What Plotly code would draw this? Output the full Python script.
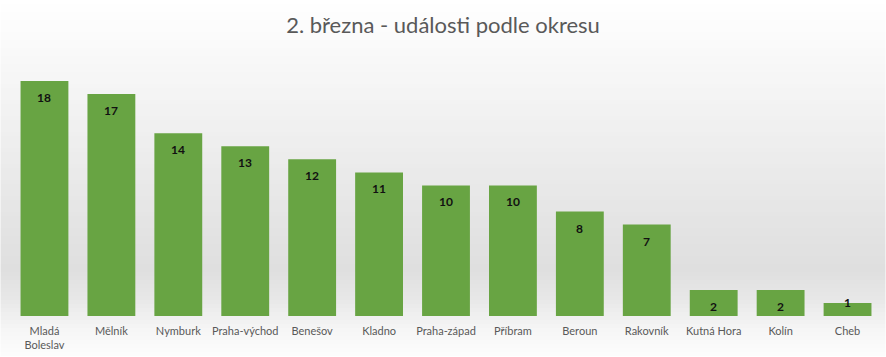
import plotly.graph_objects as go

categories = ["Mladá<br>Boleslav", "Mělník", "Nymburk", "Praha-východ", "Benešov", "Kladno",
              "Praha-západ", "Příbram", "Beroun", "Rakovník", "Kutná Hora", "Kolín", "Cheb"]
values = [18, 17, 14, 13, 12, 11, 10, 10, 8, 7, 2, 2, 1]
title_text = "2. března - události podle okresu"

W, H = 886, 357
top_px, bot_px = 81, 316
left_px, right_px = 10.5, 881.5

fig = go.Figure()
fig.add_trace(go.Bar(
    x=categories, y=values,
    marker=dict(color="#68a443", line=dict(width=0)),
    hoverinfo="x+y",
    cliponaxis=False,
))

# data labels, near the top inside each bar
for c, v in zip(categories, values):
    small = v < 2
    fig.add_annotation(x=c, y=v, text=f"<b>{v}</b>", showarrow=False,
                       yanchor="middle" if small else "top", yshift=0 if small else -7,
                       font=dict(family="Lato", size=12, color="#111111"))

# background gradient (style only)
stops = [(0, 255), (70, 247), (150, 237), (230, 227), (270, 223), (300, 232), (330, 246), (357, 253)]
shapes = []
def grey_at(py):
    for (a, ga), (b, gb) in zip(stops, stops[1:]):
        if a <= py <= b:
            return ga + (gb - ga) * (py - a) / (b - a)
    return 255
step = 4
for py in range(0, H, step):
    g = int(round(grey_at(py + step / 2)))
    y0 = (bot_px - (py + step)) / (bot_px - top_px)
    y1 = (bot_px - py) / (bot_px - top_px)
    x0 = (0 - left_px) / (right_px - left_px)
    x1 = (W - left_px) / (right_px - left_px)
    shapes.append(dict(type="rect", xref="paper", yref="paper", x0=x0, x1=x1, y0=y0, y1=y1,
                       fillcolor=f"rgb({g},{g},{g})", line=dict(width=0), layer="below"))

fig.update_layout(
    width=W, height=H,
    margin=dict(l=left_px, r=W - right_px, t=top_px, b=H - bot_px, pad=0, autoexpand=False),
    paper_bgcolor="white", plot_bgcolor="rgba(0,0,0,0)",
    shapes=shapes,
    bargap=0.285,
    showlegend=False,
    title=dict(text=title_text, x=0.5, xanchor="center", y=1 - 25 / H, yanchor="middle",
               font=dict(family="Lato", size=22, color="#595959"), automargin=False),
    xaxis=dict(showline=False, showgrid=False, zeroline=False, ticks="", automargin=False,
               ticklabelstandoff=7,
               tickfont=dict(family="Lato", size=11, color="#595959"), tickangle=0),
    yaxis=dict(range=[0, 18], visible=False, showgrid=False, zeroline=False, automargin=False),
)

fig.write_html("out.html", config={"displayModeBar": False},
               post_script="document.body.style.margin='0';")
